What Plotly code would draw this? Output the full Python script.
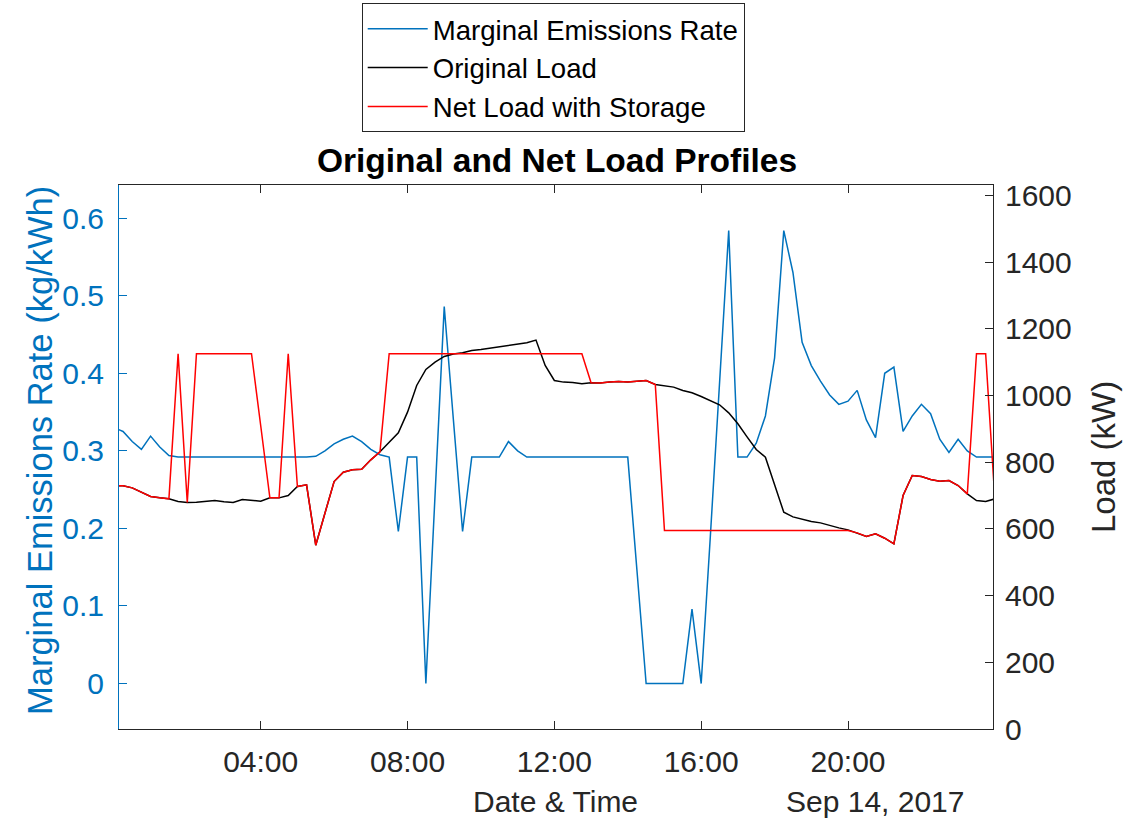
import pandas as pd
import plotly.graph_objects as go

# 15-minute timestamps, Sep 14, 2017
base = pd.Timestamp("2017-09-14 00:00")
times = [base + pd.Timedelta(minutes=15 * k) for k in range(97)]

mer = [0.330, 0.325, 0.312, 0.302, 0.319, 0.305, 0.294,
       0.292, 0.292, 0.292, 0.292, 0.292, 0.292, 0.292, 0.292, 0.292, 0.292,
       0.292, 0.292, 0.292, 0.292, 0.292,
       0.293, 0.300, 0.309, 0.315, 0.319, 0.312, 0.302, 0.295, 0.292, 0.196,
       0.292, 0.292, 0.000, 0.243, 0.486, 0.340, 0.196, 0.292, 0.292, 0.292,
       0.292, 0.312, 0.300, 0.292,
       0.292, 0.292, 0.292, 0.292, 0.292, 0.292, 0.292, 0.292, 0.292, 0.292, 0.292,
       0.146, 0.000, 0.000, 0.000, 0.000, 0.000, 0.096, 0.000, 0.190, 0.390,
       0.584, 0.292, 0.292, 0.310, 0.345, 0.420, 0.584, 0.530, 0.440, 0.410,
       0.390, 0.372, 0.360, 0.364, 0.378, 0.340, 0.317, 0.400, 0.408, 0.325,
       0.345, 0.360, 0.348, 0.315, 0.298, 0.315, 0.300, 0.292, 0.292, 0.292]

original_load = [730, 729, 723, 710, 697, 693, 690,
                 682, 679, 680, 683, 685, 681, 679, 688, 686, 683, 693, 693, 700,
                 727, 732, 551, 647, 742, 770, 777, 779, 807, 831,
                 858, 888, 950, 1030, 1078, 1100, 1117, 1124, 1128, 1135, 1138,
                 1142, 1148, 1150, 1155, 1158, 1166, 1090, 1045, 1040, 1039, 1035,
                 1038, 1037, 1040, 1042, 1040, 1043, 1045, 1033,
                 1030, 1025, 1015, 1008, 997, 985, 972, 948, 915, 876, 838, 815,
                 730, 650, 636, 628, 622, 618, 610, 603, 597,
                 588, 577, 585, 572, 555, 700, 760, 757, 748, 743, 745, 730, 705,
                 685, 682, 690]

net_load = [730, 729, 723, 710, 697, 693, 690,
            1125, 679, 1125, 1125, 1125, 1125, 1125, 1125, 1125,
            910, 693, 693, 1125, 727, 732, 551, 647, 742, 770, 777, 779, 807, 831,
            1125, 1125, 1125, 1125, 1125, 1125, 1125, 1125, 1125, 1125, 1125,
            1125, 1125, 1125, 1125, 1125, 1125, 1125, 1125, 1125, 1125, 1125,
            1038, 1037, 1040, 1042, 1040, 1043, 1045, 1033,
            595, 595, 595, 595, 595, 595, 595, 595, 595, 595, 595,
            595, 595, 595, 595, 595, 595, 595, 595, 595, 595,
            588, 577, 585, 572, 555, 700, 760, 757, 748, 743, 745, 730, 705,
            1125, 1125, 690]

x_ticks = ["2017-09-14 04:00", "2017-09-14 08:00", "2017-09-14 12:00",
           "2017-09-14 16:00", "2017-09-14 20:00"]
left_ticks = [0, 0.1, 0.2, 0.3, 0.4, 0.5, 0.6]
right_ticks = [0, 200, 400, 600, 800, 1000, 1200, 1400, 1600]

BLUE = "#0072BD"
DARK = "#262626"
FONT = "Liberation Sans, Arial, Helvetica, sans-serif"

fig = go.Figure()
fig.add_trace(go.Scatter(x=times, y=mer, mode="lines", name="Marginal Emissions Rate",
                         line=dict(color=BLUE, width=1.5), yaxis="y"))
fig.add_trace(go.Scatter(x=times, y=original_load, mode="lines", name="Original Load",
                         line=dict(color="black", width=1.5), yaxis="y2"))
fig.add_trace(go.Scatter(x=times, y=net_load, mode="lines", name="Net Load with Storage",
                         line=dict(color="#FF0000", width=1.5), yaxis="y2"))

fig.update_layout(
    width=1133, height=818,
    margin=dict(l=119, r=140, t=185, b=89, autoexpand=False),
    paper_bgcolor="white", plot_bgcolor="white",
    font=dict(family=FONT, color=DARK, size=30),
    title=dict(text="<b>Original and Net Load Profiles</b>", x=(557 / 1133), xref="container",
               xanchor="center", y=1 - 160 / 818, yref="container", yanchor="middle",
               font=dict(size=33.5, color="black", family=FONT)),
    xaxis=dict(type="date",
               range=["2017-09-14 00:08:24", "2017-09-14 23:57:00"],
               tickvals=x_ticks, tickformat="%H:%M",
               ticks="inside", ticklen=8, tickcolor=DARK, tickwidth=1,
               showline=True, linecolor=DARK, linewidth=1, mirror="ticks",
               showgrid=False, zeroline=False, ticklabelstandoff=6,
               tickfont=dict(size=30, color=DARK)),
    yaxis=dict(range=[-0.0586, 0.6428], tickvals=left_ticks,
               ticktext=[str(v) if v != 0 else "0" for v in left_ticks],
               ticks="inside", ticklen=8, tickcolor=BLUE,
               showline=True, linecolor=BLUE, linewidth=1,
               showgrid=False, zeroline=False, ticklabelstandoff=8,
               tickfont=dict(size=30, color=BLUE)),
    yaxis2=dict(range=[0, 1631], tickvals=right_ticks, overlaying="y", side="right",
                ticks="inside", ticklen=8, tickcolor=DARK,
                showline=True, linecolor=DARK, linewidth=1,
                showgrid=False, zeroline=False, ticklabelstandoff=5,
                tickfont=dict(size=30, color=DARK)),
    legend=dict(x=0.2777, y=1.334, xanchor="left", yanchor="top",
                bordercolor=DARK, borderwidth=1, bgcolor="white",
                font=dict(size=27.6, color="black", family=FONT),
                itemwidth=60, tracegroupgap=0),
    showlegend=True,
)

fig.add_annotation(text="Marginal Emissions Rate (kg/kWh)", textangle=-90,
                   xref="paper", yref="paper", x=(40 - 119) / 874, y=(729 - 451) / 544,
                   xanchor="center", yanchor="middle", showarrow=False,
                   font=dict(size=34.5, color=BLUE, family=FONT))
fig.add_annotation(text="Load (kW)", textangle=-90,
                   xref="paper", yref="paper", x=(1103 - 119) / 874, y=0.5,
                   xanchor="center", yanchor="middle", showarrow=False,
                   font=dict(size=33, color=DARK, family=FONT))
fig.add_annotation(text="Date & Time", xref="paper", yref="paper",
                   x=(555 - 119) / 874, y=(729 - 801) / 544,
                   xanchor="center", yanchor="middle", showarrow=False,
                   font=dict(size=30, color=DARK, family=FONT))
fig.add_annotation(text="Sep 14, 2017", xref="paper", yref="paper",
                   x=(875 - 119) / 874, y=(729 - 801) / 544,
                   xanchor="center", yanchor="middle", showarrow=False,
                   font=dict(size=30, color=DARK, family=FONT))

fig.write_html("out.html")
